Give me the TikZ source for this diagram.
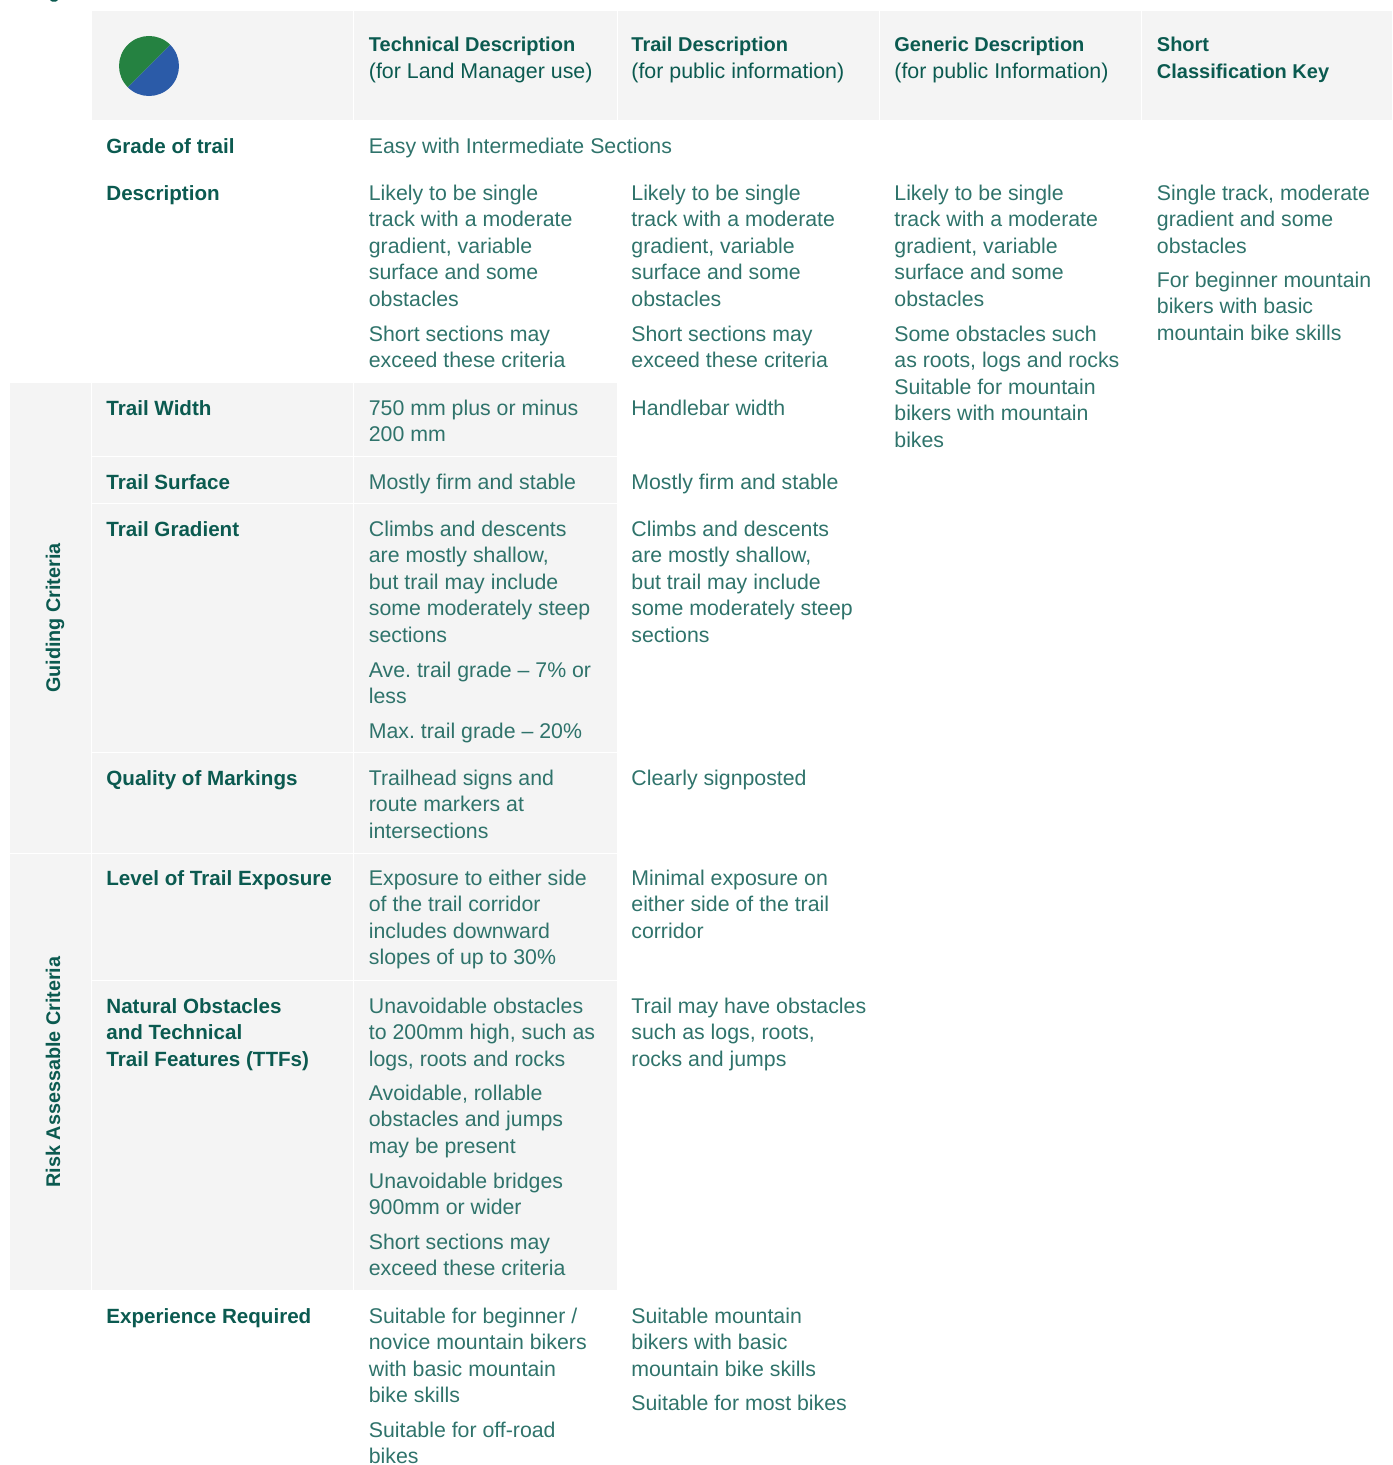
\documentclass[tikz,border=0pt]{standalone}
\usepackage{fontspec}
\setmainfont{Liberation Sans}
\definecolor{cellgray}{HTML}{F4F4F4}
\definecolor{headgreen}{HTML}{0B5A50}
\definecolor{bodygreen}{HTML}{2F736B}
\definecolor{piegreen}{HTML}{258241}
\definecolor{pieblue}{HTML}{2B5BA8}
\tikzset{
  bodytext/.style={anchor=north west,inner sep=0pt,align=left,text=bodygreen,font=\fontsize{10.65pt}{13.25pt}\selectfont\frenchspacing},
  headtext/.style={anchor=north west,inner sep=0pt,align=left,text=headgreen,font=\fontsize{10.3pt}{13.25pt}\selectfont\bfseries\frenchspacing},
  toptext/.style={anchor=north west,inner sep=0pt,align=left,text=headgreen,font=\fontsize{10pt}{13.5pt}\selectfont\bfseries\frenchspacing},
  sidetext/.style={inner sep=0pt,anchor=base,rotate=90,text=headgreen,font=\fontsize{9.9pt}{13.25pt}\selectfont\bfseries},
  panel/.style={fill=cellgray,draw=none},
  rulewhite/.style={draw=white,line width=0.5pt}
}
% first-line strut: 8pt above the baseline
\newcommand{\fs}{\rule{0pt}{8pt}}
\newcommand{\bp}[4]{\node[bodytext] (#1) at (#2-0.5,#3-16) {\fs #4};}
\newcommand{\hp}[4]{\node[headtext] (#1) at (#2-0.5,#3-16) {\fs #4};}
\newcommand{\tp}[4]{\node[toptext] (#1) at (#2-0.5,#3-16) {\fs #4};}
\newcommand{\subl}[1]{\mdseries\fontsize{10.7pt}{13.5pt}\selectfont #1}
\begin{document}
\begin{tikzpicture}[x=0.5pt,y=-0.5pt]
\useasboundingbox (0,0) rectangle (1392,1465);
% backgrounds
\fill[panel] (92,11) rectangle (1392,120);
\fill[panel] (10,383) rectangle (616.8,1290);
% dividers
\foreach \x in {353.5,617,879.5,1141.5} \draw[rulewhite] (\x,11) -- (\x,120);
\draw[rulewhite] (91.5,383) -- (91.5,1290);
\draw[rulewhite] (353.5,383) -- (353.5,1290);
\foreach \y in {456.5,503.5,752.5,980.5} \draw[rulewhite] (92,\y) -- (616.8,\y);
\draw[rulewhite] (10,853.5) -- (616.8,853.5);
% clipped fragment at the top edge
\fill[headgreen] (50,0) -- (58,0) -- (56,1.6) -- (52,1.6) -- cycle;
% pie
\fill[pieblue] (170.2,44.8) arc[start angle=-45,end angle=135,radius=30] -- cycle;
\fill[piegreen] (127.8,87.2) arc[start angle=135,end angle=315,radius=30] -- cycle;
% header
\tp{hA}{369}{51}{Technical Description\\\subl{(for Land Manager use)}}
\tp{hB}{631.5}{51}{Trail Description\\\subl{(for public information)}}
\tp{hC}{894.5}{51}{Generic Description\\\subl{(for public Information)}}
\tp{hD}{1157}{51}{Short\\Classification Key}
% row labels
\hp{rGrade}{106.5}{153}{Grade of trail}
\hp{rDesc}{106.5}{200}{Description}
\hp{rWidth}{106.5}{415}{Trail Width}
\hp{rSurf}{106.5}{489}{Trail Surface}
\hp{rGrad}{106.5}{536}{Trail Gradient}
\hp{rMark}{106.5}{785}{Quality of Markings}
\hp{rExpo}{106.5}{885}{Level of Trail Exposure}
\hp{rObst}{106.5}{1013}{Natural Obstacles\\and Technical\\Trail Features (TTFs)}
\hp{rExpr}{106.5}{1323}{Experience Required}
\node[sidetext] (sGuide) at (60,618) {Guiding Criteria};
\node[sidetext] (sRisk) at (60,1072) {Risk Assessable Criteria};
% grade
\bp{grade}{369}{153}{Easy with Intermediate Sections}
% description
\bp{dA1}{369}{200}{Likely to be single\\track with a moderate\\gradient, variable\\surface and some\\obstacles}
\bp{dA2}{369}{341}{Short sections may\\exceed these criteria}
\bp{dB1}{631.5}{200}{Likely to be single\\track with a moderate\\gradient, variable\\surface and some\\obstacles}
\bp{dB2}{631.5}{341}{Short sections may\\exceed these criteria}
\bp{dC1}{894.5}{200}{Likely to be single\\track with a moderate\\gradient, variable\\surface and some\\obstacles}
\bp{dC2}{894.5}{341}{Some obstacles such\\as roots, logs and rocks\\Suitable for mountain\\bikers with mountain\\bikes}
\bp{dD1}{1157}{200}{Single track, moderate\\gradient and some\\obstacles}
\bp{dD2}{1157}{287}{For beginner mountain\\bikers with basic\\mountain bike skills}
% width
\bp{wA}{369}{415}{750 mm plus or minus\\200 mm}
\bp{wB}{631.5}{415}{Handlebar width}
% surface
\bp{sA}{369}{489}{Mostly firm and stable}
\bp{sB}{631.5}{489}{Mostly firm and stable}
% gradient
\bp{gA1}{369}{536}{Climbs and descents\\are mostly shallow,\\but trail may include\\some moderately steep\\sections}
\bp{gA2}{369}{677}{Ave. trail grade – 7\% or\\less}
\bp{gA3}{369}{738}{Max. trail grade – 20\%}
\bp{gB1}{631.5}{536}{Climbs and descents\\are mostly shallow,\\but trail may include\\some moderately steep\\sections}
% markings
\bp{mA}{369}{785}{Trailhead signs and\\route markers at\\intersections}
\bp{mB}{631.5}{785}{Clearly signposted}
% exposure
\bp{eA}{369}{885}{Exposure to either side\\of the trail corridor\\includes downward\\slopes of up to 30\%}
\bp{eB}{631.5}{885}{Minimal exposure on\\either side of the trail\\corridor}
% obstacles
\bp{oA1}{369}{1013}{Unavoidable obstacles\\to 200mm high, such as\\logs, roots and rocks}
\bp{oA2}{369}{1100}{Avoidable, rollable\\obstacles and jumps\\may be present}
\bp{oA3}{369}{1188}{Unavoidable bridges\\900mm or wider}
\bp{oA4}{369}{1249}{Short sections may\\exceed these criteria}
\bp{oB}{631.5}{1013}{Trail may have obstacles\\such as logs, roots,\\rocks and jumps}
% experience
\bp{xA1}{369}{1323}{Suitable for beginner /\\novice mountain bikers\\with basic mountain\\bike skills}
\bp{xA2}{369}{1437}{Suitable for off-road\\bikes}
\bp{xB1}{631.5}{1323}{Suitable mountain\\bikers with basic\\mountain bike skills}
\bp{xB2}{631.5}{1410}{Suitable for most bikes}
\end{tikzpicture}
\end{document}
